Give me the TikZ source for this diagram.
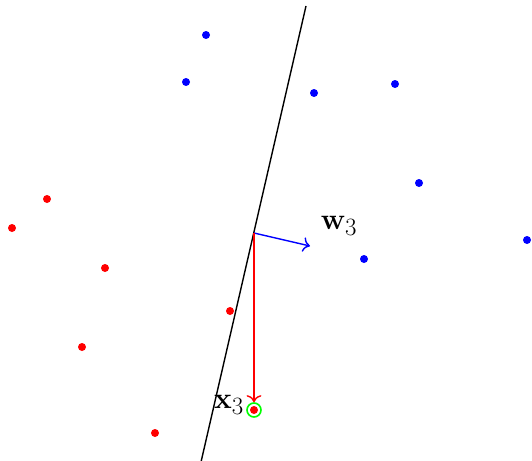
\documentclass[tikz,border=0pt]{standalone}
\usepackage{graphicx}
\usetikzlibrary{arrows.meta}
\begin{document}
\begin{tikzpicture}[x=1pt,y=-1pt,
  bdot/.style={circle,fill=blue,inner sep=0pt,minimum size=8pt},
  rdot/.style={circle,fill=red,inner sep=0pt,minimum size=8pt},
  lbl/.style={font=\Huge,inner sep=1pt},
  vec/.style={line width=1.4pt,-{To[scale=1.5]}}]
\useasboundingbox (0,0) rectangle (532,460);
\coordinate (top) at (306,6);
\coordinate (bot) at (201,462);
\draw[line width=1.4pt] (top) -- (bot);
\foreach \x/\y [count=\i] in {206/35,186/82,314/93,395/84,419/183,364/259,527/240}
  \node[bdot] (b\i) at (\x,\y) {};
\foreach \x/\y [count=\i] in {47/199,12/228,105/268,230/311,82/347,155/433}
  \node[rdot] (r\i) at (\x,\y) {};
\node[rdot] (x3) at (254,410) {};
\node[circle,draw=green,line width=1.6pt,minimum size=14pt,inner sep=0pt] (ring) at (254,410) {};
\coordinate (o) at (254,233);
\coordinate (wend) at (310,246);
\draw[vec,blue] (o) -- (wend);
\draw[vec,red] (o) -- (ring.north);
\node[lbl] (wl) at (339,226) {\scalebox{1.2}{$\mathbf{w}_3$}};
\node[lbl] (xl) at (229,405) {\scalebox{1.2}{$\mathbf{x}_3$}};
\end{tikzpicture}
\end{document}
